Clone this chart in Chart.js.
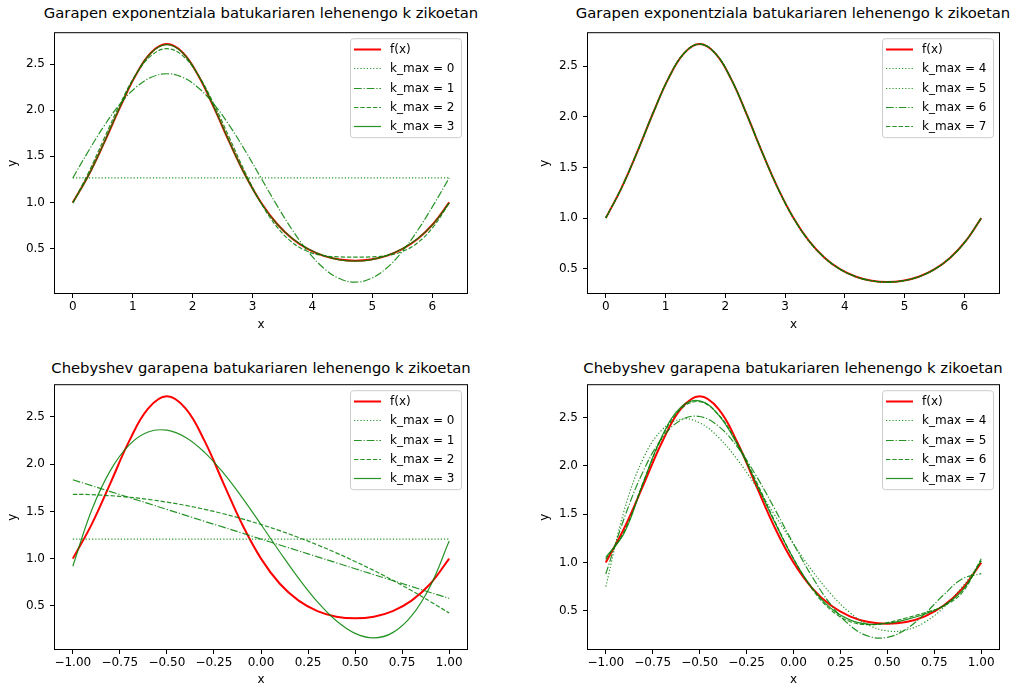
<!DOCTYPE html>
<html>
<head>
<meta charset="utf-8">
<script src="https://cdn.jsdelivr.net/npm/chart.js@4.4.1/dist/chart.umd.min.js"></script>
<style>
  body { margin: 0; width: 1015px; height: 687px; overflow: hidden; background: #fff; }
  canvas { position: absolute; }
  .title { position: absolute; width: 500px; font: 14.8px "DejaVu Sans"; line-height: 18px; color: #000; text-align: center; white-space: nowrap; }
</style>
</head>
<body>
<div class="title" style="left:11px;top:4px">Garapen exponentziala batukariaren lehenengo k zikoetan</div>
<div class="title" style="left:543px;top:4px">Garapen exponentziala batukariaren lehenengo k zikoetan</div>
<div class="title" style="left:11px;top:359px">Chebyshev garapena batukariaren lehenengo k zikoetan</div>
<div class="title" style="left:543px;top:359px">Chebyshev garapena batukariaren lehenengo k zikoetan</div>
<canvas id="c1" width="500" height="314" style="left:0;top:20px"></canvas>
<canvas id="c2" width="515" height="314" style="left:500px;top:20px"></canvas>
<canvas id="c3" width="500" height="315" style="left:0;top:372px"></canvas>
<canvas id="c4" width="515" height="315" style="left:500px;top:372px"></canvas>
<script>
// ---- data: exponential (Fourier) expansion, x in [0, 2pi] ----
const topX = [0, 0.2618, 0.5236, 0.7854, 1.0472, 1.3090, 1.5708, 1.8326, 2.0944, 2.3562, 2.6180, 2.8798,
  3.1416, 3.4034, 3.6652, 3.9270, 4.1888, 4.4506, 4.7124, 4.9742, 5.2360, 5.4978, 5.7596, 6.0214, 6.2832];
const topF = [1, 1.2954, 1.6487, 2.0281, 2.3774, 2.6272, 2.7183, 2.6272, 2.3774, 2.0281, 1.6487, 1.2954,
  1, 0.7720, 0.6065, 0.4931, 0.4206, 0.3806, 0.3679, 0.3806, 0.4206, 0.4931, 0.6065, 0.7720, 1];
const topK0 = [1.266, 1.266, 1.266, 1.266, 1.266, 1.266, 1.266, 1.266, 1.266, 1.266, 1.266, 1.266,
  1.266, 1.266, 1.266, 1.266, 1.266, 1.266, 1.266, 1.266, 1.266, 1.266, 1.266, 1.266, 1.266];
const topK1 = [1.2661, 1.5586, 1.8313, 2.0653, 2.2450, 2.3579, 2.3964, 2.3579, 2.2450, 2.0653, 1.8313, 1.5586,
  1.2661, 0.9736, 0.7009, 0.4669, 0.2872, 0.1743, 0.1358, 0.1743, 0.2872, 0.4669, 0.7009, 0.9736, 1.2661];
const topK2 = [0.9946, 1.3235, 1.6955, 2.0653, 2.3808, 2.5930, 2.6679, 2.5930, 2.3808, 2.0653, 1.6955, 1.3235,
  0.9946, 0.7385, 0.5651, 0.4669, 0.4230, 0.4094, 0.4073, 0.4094, 0.4230, 0.4669, 0.5651, 0.7385, 0.9946];
const topK3 = [0.9946, 1.2922, 1.6512, 2.0340, 2.3808, 2.6243, 2.7122, 2.6243, 2.3808, 2.0340, 1.6512, 1.2922,
  0.9946, 0.7698, 0.6094, 0.4982, 0.4230, 0.3781, 0.3630, 0.3781, 0.4230, 0.4982, 0.6094, 0.7698, 0.9946];
const topK4 = [1.0001, 1.2949, 1.6485, 2.0285, 2.3781, 2.6270, 2.7177, 2.6270, 2.3781, 2.0285, 1.6485, 1.2949,
  1.0001, 0.7725, 0.6067, 0.4927, 0.4203, 0.3808, 0.3685, 0.3808, 0.4203, 0.4927, 0.6067, 0.7725, 1.0001];
const topK5 = [1, 1.2954, 1.6487, 2.0281, 2.3774, 2.6272, 2.7183, 2.6272, 2.3774, 2.0281, 1.6487, 1.2954,
  1, 0.7720, 0.6065, 0.4931, 0.4206, 0.3806, 0.3679, 0.3806, 0.4206, 0.4931, 0.6065, 0.7720, 1];
const topK6 = topK5;
const topK7 = topK5;

// ---- data: Chebyshev expansion, x in [-1, 1] ----
const botX = [-1, -0.9, -0.8, -0.7, -0.6, -0.5, -0.4, -0.3, -0.2, -0.1, 0,
  0.1, 0.2, 0.3, 0.4, 0.5, 0.6, 0.7, 0.8, 0.9, 1];
const botF = [1, 1.362, 1.800, 2.246, 2.588, 2.718, 2.588, 2.246, 1.800, 1.362, 1,
  0.734, 0.556, 0.445, 0.386, 0.368, 0.386, 0.445, 0.556, 0.734, 1];
const botK0 = [1.207, 1.207, 1.207, 1.207, 1.207, 1.207, 1.207, 1.207, 1.207, 1.207, 1.207,
  1.207, 1.207, 1.207, 1.207, 1.207, 1.207, 1.207, 1.207, 1.207, 1.207];
const botK1 = [1.835, 1.772, 1.709, 1.647, 1.584, 1.521, 1.458, 1.395, 1.333, 1.270, 1.207,
  1.144, 1.082, 1.019, 0.956, 0.893, 0.830, 0.768, 0.705, 0.642, 0.579];
const botK2 = [1.681, 1.677, 1.666, 1.650, 1.627, 1.598, 1.563, 1.522, 1.475, 1.421, 1.361,
  1.296, 1.223, 1.145, 1.061, 0.970, 0.874, 0.771, 0.662, 0.546, 0.425];
const botK3 = [0.920, 1.512, 1.934, 2.204, 2.340, 2.359, 2.282, 2.125, 1.907, 1.646, 1.361,
  1.070, 0.791, 0.542, 0.342, 0.209, 0.161, 0.217, 0.394, 0.711, 1.186];
const botK4 = [0.751, 1.551, 2.077, 2.373, 2.482, 2.444, 2.294, 2.067, 1.790, 1.491, 1.193,
  0.915, 0.674, 0.484, 0.355, 0.294, 0.304, 0.385, 0.536, 0.750, 1.017];
const botK5 = [0.882, 1.468, 1.946, 2.285, 2.472, 2.509, 2.410, 2.197, 1.901, 1.554, 1.193,
  0.852, 0.563, 0.353, 0.239, 0.228, 0.313, 0.473, 0.667, 0.833, 0.886];
const botK6 = [1.034, 1.330, 1.831, 2.294, 2.587, 2.662, 2.530, 2.236, 1.846, 1.428, 1.040,
  0.726, 0.509, 0.392, 0.359, 0.381, 0.428, 0.482, 0.552, 0.694, 1.039];
const botK7 = [1.053, 1.312, 1.827, 2.308, 2.605, 2.671, 2.525, 2.221, 1.828, 1.416, 1.040,
  0.737, 0.527, 0.408, 0.364, 0.372, 0.411, 0.469, 0.555, 0.712, 1.021];

// ---- ticks ----
const topXTicks = [0, 1, 2, 3, 4, 5, 6];
const topXLabels = ['0', '1', '2', '3', '4', '5', '6'];
const botXTicks = [-1, -0.75, -0.5, -0.25, 0, 0.25, 0.5, 0.75, 1];
const botXLabels = ['\u22121.00', '\u22120.75', '\u22120.50', '\u22120.25', '0.00', '0.25', '0.50', '0.75', '1.00'];
const yTicks = [0.5, 1.0, 1.5, 2.0, 2.5];
const yLabels = ['0.5', '1.0', '1.5', '2.0', '2.5'];

Chart.defaults.font.family = '"DejaVu Sans"';
Chart.defaults.font.size = 12;
Chart.defaults.color = '#000';

const RED = '#ff0000';
const GREEN = 'rgba(0,128,0,0.85)';
const DOT = [1.2, 2];
const DASHDOT = [7.7, 1.9, 1.2, 1.9];
const DASH = [4.4, 1.9];

function pts(xs, ys) {
  return xs.map((x, i) => ({ x: x, y: ys[i] }));
}

// frame around the axes and a matplotlib style legend box
const frameLegend = {
  id: 'frameLegend',
  afterDraw(chart) {
    const ctx = chart.ctx, a = chart.chartArea;
    ctx.save();
    ctx.strokeStyle = '#000';
    ctx.lineWidth = 1;
    ctx.strokeRect(a.left + 0.5, a.top + 0.5, a.right - a.left - 1, a.bottom - a.top - 1);

    const w = 111, h = 99;
    const x0 = a.right - 7 - w, y0 = a.top + 6;
    ctx.beginPath();
    ctx.roundRect(x0 + 0.5, y0 + 0.5, w, h, 3);
    ctx.fillStyle = 'rgba(255,255,255,0.8)';
    ctx.fill();
    ctx.strokeStyle = '#cccccc';
    ctx.stroke();
    ctx.font = '12px "DejaVu Sans"';
    ctx.textBaseline = 'middle';
    chart.data.datasets.forEach((ds, i) => {
      const y = Math.round(y0 + 10.7 + i * 19.3) + 0.5;
      ctx.beginPath();
      ctx.setLineDash(ds.borderDash || []);
      ctx.strokeStyle = ds.borderColor;
      ctx.lineWidth = ds.borderWidth;
      ctx.moveTo(x0 + 4, y);
      ctx.lineTo(x0 + 31, y);
      ctx.stroke();
      ctx.setLineDash([]);
      ctx.fillStyle = '#000';
      ctx.fillText(ds.label, x0 + 40, y);
    });
    ctx.restore();
  }
};

function makeChart(id, cfg) {
  const series = cfg.series.map((s, i) => ({
    label: s.label,
    data: pts(cfg.xs, s.ys),
    borderColor: s.red ? RED : GREEN,
    borderWidth: s.red ? 2 : 1.2,
    borderDash: s.dash || [],
    pointRadius: 0,
    tension: 0.4,
    fill: false,
    order: cfg.series.length - i
  }));
  new Chart(document.getElementById(id), {
    type: 'line',
    data: { datasets: series },
    options: {
      responsive: false,
      animation: false,
      events: [],
      layout: { padding: { left: 0, top: cfg.padTop, right: cfg.padRight, bottom: 0 } },
      plugins: { legend: { display: false }, tooltip: { enabled: false } },
      scales: {
        x: {
          type: 'linear',
          min: cfg.xMin, max: cfg.xMax,
          afterBuildTicks: s => { s.ticks = cfg.xTicks.map(v => ({ value: v })); },
          afterFit: s => { s.height = cfg.xHeight; },
          ticks: { autoSkip: false, maxRotation: 0, padding: 2, callback: (v, i) => cfg.xLabels[i] },
          grid: { drawOnChartArea: false, drawTicks: true, tickLength: 4, color: '#000' },
          border: { display: false },
          title: { display: true, text: 'x', font: { size: 12, lineHeight: 1.2 }, padding: { top: 0, bottom: cfg.xTitlePad } }
        },
        y: {
          min: cfg.yMin, max: cfg.yMax,
          afterBuildTicks: s => { s.ticks = yTicks.map(v => ({ value: v })); },
          afterFit: s => { s.width = cfg.yWidth; },
          ticks: { autoSkip: false, padding: 5, callback: (v, i) => yLabels[i] },
          grid: { drawOnChartArea: false, drawTicks: true, tickLength: 4, color: '#000' },
          border: { display: false },
          title: { display: true, text: 'y', font: { size: 12, lineHeight: 1.2 }, padding: { top: cfg.yTitlePad, bottom: 0 } }
        }
      }
    },
    plugins: [frameLegend]
  });
}

makeChart('c1', {
  xs: topX, xMin: -0.314, xMax: 6.597, yMin: 0.007, yMax: 2.847,
  xTicks: topXTicks, xLabels: topXLabels,
  padTop: 7, padRight: 32, yWidth: 54, xHeight: 40, xTitlePad: 1.8, yTitlePad: 6.1,
  series: [
    { label: 'f(x)', ys: topF, red: true },
    { label: 'k_max = 0', ys: topK0, dash: DOT },
    { label: 'k_max = 1', ys: topK1, dash: DASHDOT },
    { label: 'k_max = 2', ys: topK2, dash: DASH },
    { label: 'k_max = 3', ys: topK3 }
  ]
});

makeChart('c2', {
  xs: topX, xMin: -0.314, xMax: 6.597, yMin: 0.250, yMax: 2.836,
  xTicks: topXTicks, xLabels: topXLabels,
  padTop: 7, padRight: 15, yWidth: 87, xHeight: 40, xTitlePad: 1.8, yTitlePad: 37.8,
  series: [
    { label: 'f(x)', ys: topF, red: true },
    { label: 'k_max = 4', ys: topK4, dash: DOT },
    { label: 'k_max = 5', ys: topK5, dash: DOT },
    { label: 'k_max = 6', ys: topK6, dash: DASHDOT },
    { label: 'k_max = 7', ys: topK7, dash: DASH }
  ]
});

makeChart('c3', {
  xs: botX, xMin: -1.1, xMax: 1.1, yMin: 0.033, yMax: 2.846,
  xTicks: botXTicks, xLabels: botXLabels,
  padTop: 10, padRight: 32, yWidth: 54, xHeight: 37, xTitlePad: 0, yTitlePad: 6.1,
  series: [
    { label: 'f(x)', ys: botF, red: true },
    { label: 'k_max = 0', ys: botK0, dash: DOT },
    { label: 'k_max = 1', ys: botK1, dash: DASHDOT },
    { label: 'k_max = 2', ys: botK2, dash: DASH },
    { label: 'k_max = 3', ys: botK3 }
  ]
});

makeChart('c4', {
  xs: botX, xMin: -1.1, xMax: 1.1, yMin: 0.097, yMax: 2.843,
  xTicks: botXTicks, xLabels: botXLabels,
  padTop: 10, padRight: 15, yWidth: 87, xHeight: 37, xTitlePad: 0, yTitlePad: 37.8,
  series: [
    { label: 'f(x)', ys: botF, red: true },
    { label: 'k_max = 4', ys: botK4, dash: DOT },
    { label: 'k_max = 5', ys: botK5, dash: DASHDOT },
    { label: 'k_max = 6', ys: botK6, dash: DASH },
    { label: 'k_max = 7', ys: botK7 }
  ]
});
</script>
</body>
</html>
